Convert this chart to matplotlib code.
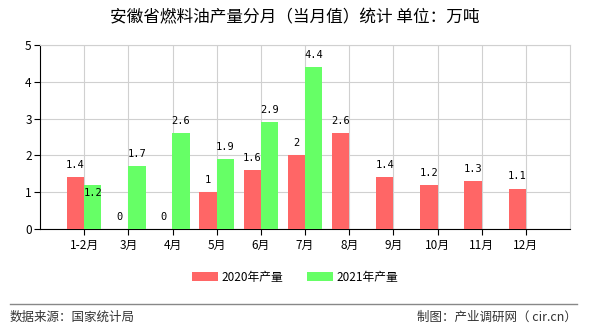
import numpy as np
import matplotlib
matplotlib.use("Agg")
import matplotlib.pyplot as plt
from matplotlib.patches import Patch
from matplotlib.lines import Line2D

plt.rcParams['font.family'] = ['Noto Sans CJK SC', 'DejaVu Sans']

# monthly output, 10k tonnes
months = ['1-2月', '3月', '4月', '5月', '6月', '7月', '8月', '9月', '10月', '11月', '12月']
output_2020 = [1.4, 0, 0, 1, 1.6, 2, 2.6, 1.4, 1.2, 1.3, 1.1]
output_2021 = [1.2, 1.7, 2.6, 1.9, 2.9, 4.4, None, None, None, None, None]
series_names = ['2020年产量', '2021年产量']

red = '#ff6666'
green = '#66ff66'

fig = plt.figure(figsize=(5.9, 3.3), dpi=100)
ax = fig.add_axes([40 / 590, 1 - 229 / 330, 530 / 590, 184 / 330])

x = np.arange(len(months))
w = 0.39

for i, v in enumerate(output_2020):
    ax.bar(x[i] - w / 2, v, w, color=red, zorder=3)
    ax.text(x[i] - w / 2, v + 0.33, f'{v:g}', ha='center', va='center',
            fontsize=7.5, family='DejaVu Sans Mono', zorder=4)

for i, v in enumerate(output_2021):
    if v is None:
        continue
    ax.bar(x[i] + w / 2, v, w, color=green, zorder=3)
    # first label would collide with the neighbouring one, push it down
    dy = -0.22 if i == 0 else 0.33
    ax.text(x[i] + w / 2, v + dy, f'{v:g}', ha='center', va='center',
            fontsize=7.5, family='DejaVu Sans Mono', zorder=4)

ax.set_xlim(-1, len(months))
ax.set_ylim(0, 5)
ax.set_yticks(range(6))
ax.set_xticks(x)
ax.set_xticklabels(months, fontsize=8.5)
ax.tick_params(axis='y', labelsize=8.5, length=4, width=0.8, pad=2)
ax.tick_params(axis='x', length=4, width=0.8, pad=3)

ax.grid(True, axis='y', color='#d0d0d0', linewidth=0.8, zorder=0)
ax.grid(True, axis='x', color='#d0d0d0', linewidth=0.8, zorder=0)

for side in ['top', 'right']:
    ax.spines[side].set_color('#d0d0d0')
    ax.spines[side].set_linewidth(0.8)
ax.spines['left'].set_color('black')
ax.spines['bottom'].set_color('black')

fig.text(0.5, 1 - 18 / 330, '安徽省燃料油产量分月（当月值）统计 单位：万吨',
         ha='center', va='center', fontsize=12)

handles = [Patch(facecolor=red, edgecolor='none'), Patch(facecolor=green, edgecolor='none')]
fig.legend(handles, series_names, loc='center', bbox_to_anchor=(0.5, 1 - 277 / 330),
           ncol=2, frameon=False, fontsize=8.5, handlelength=2.2, handleheight=0.9,
           columnspacing=2.0, handletextpad=0.3)

fig.add_artist(Line2D([10 / 590, 577 / 590], [1 - 304 / 330] * 2,
                      color='#888888', linewidth=1))
fig.text(10 / 590, 1 - 317 / 330, '数据来源：国家统计局', ha='left', va='center',
         fontsize=9, color='#333333')
fig.text(577 / 590, 1 - 317 / 330, '制图：产业调研网（ cir.cn）', ha='right', va='center',
         fontsize=9, color='#333333')

fig.savefig('out.png', dpi=100)
